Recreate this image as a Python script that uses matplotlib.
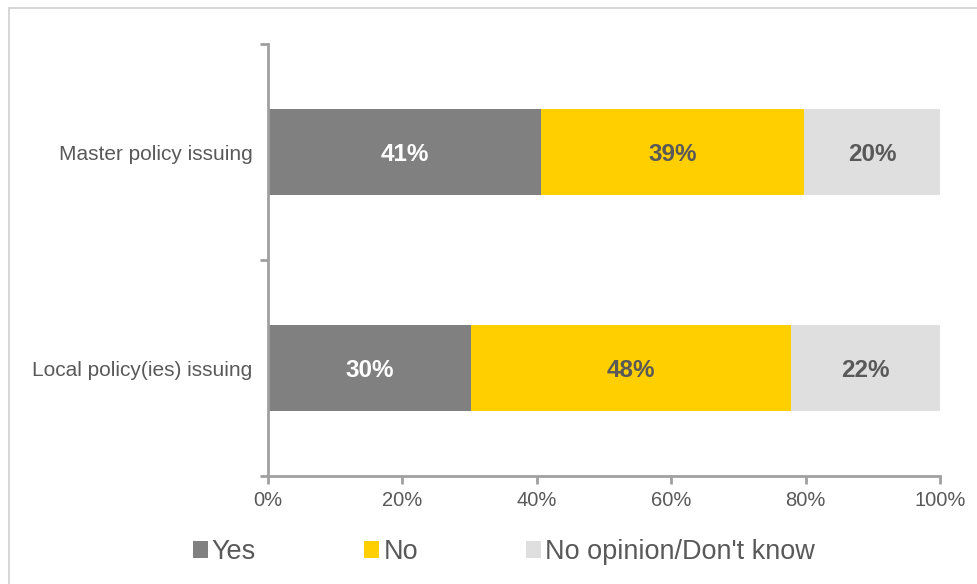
import matplotlib
matplotlib.use("Agg")
import matplotlib.pyplot as plt
from matplotlib.lines import Line2D
from matplotlib.patches import Patch

categories = ["Master policy issuing", "Local policy(ies) issuing"]
series_names = ["Yes", "No", "No opinion/Don't know"]
yes_vals = [40.6, 30.2]
no_vals = [39.2, 47.6]
noop_vals = [20.2, 22.2]
bar_labels = [["41%", "30%"], ["39%", "48%"], ["20%", "22%"]]
xticks = [0, 20, 40, 60, 80, 100]
xtick_labels = ["0%", "20%", "40%", "60%", "80%", "100%"]

colors = ["#808080", "#FFCF00", "#DFDFDF"]
label_colors = ["white", "#595959", "#595959"]
txt = "#595959"
spine = "#A0A0A0"

plt.rcParams['font.family'] = ['Liberation Sans', 'DejaVu Sans']

W, H = 977, 584
fig = plt.figure(figsize=(W / 100, H / 100), dpi=100)
ax = fig.add_axes([268 / W, 1 - 476 / H, (940 - 268) / W, (476 - 44) / H])

ypos = [1, 0]  # Master on top
left = [0, 0]
for vals, col, lc, labs, name in zip([yes_vals, no_vals, noop_vals], colors, label_colors, bar_labels, series_names):
    bars = ax.barh(ypos, vals, left=left, height=0.395, color=col, label=name, linewidth=0)
    for b, lab in zip(bars, labs):
        ax.text(b.get_x() + b.get_width() / 2, b.get_y() + b.get_height() / 2 - 0.01, lab,
                ha="center", va="center", color=lc, fontsize=17.5, fontweight="bold")
    left = [l + v for l, v in zip(left, vals)]

ax.set_xlim(0, 100)
ax.set_ylim(-0.5, 1.5)
ax.set_xticks(xticks)
ax.set_xticklabels(xtick_labels, fontsize=14.5, color=txt)
ax.set_yticks(ypos)
ax.set_yticklabels(categories, fontsize=15, color=txt)
ax.tick_params(axis="y", length=0, pad=11)
ax.set_yticks([-0.5, 0.5, 1.5], minor=True)
ax.tick_params(axis="y", which="minor", length=6, width=2, color=spine, direction="out")
ax.tick_params(axis="x", length=6, width=2, color=spine, direction="out", pad=5)

for s in ["top", "right"]:
    ax.spines[s].set_visible(False)
for s in ["left", "bottom"]:
    ax.spines[s].set_color(spine)
    ax.spines[s].set_linewidth(2)

handles = [Patch(facecolor=c, edgecolor="none") for c in colors]
fig.legend(handles, series_names, loc="center", bbox_to_anchor=(504 / W, 1 - 552 / H),
           ncol=3, frameon=False, fontsize=19.5, labelcolor=txt,
           handlelength=0.55, handleheight=0.55, handletextpad=0.15, columnspacing=4.0)

# partial border (left and top)
fig.add_artist(Line2D([8.5 / W, 8.5 / W], [0, 1 - 7.5 / H], transform=fig.transFigure, color="#D0D0D0", lw=1.2))
fig.add_artist(Line2D([8.5 / W, 1], [1 - 7.5 / H, 1 - 7.5 / H], transform=fig.transFigure, color="#D0D0D0", lw=1.2))

fig.savefig("out.png", dpi=100)
